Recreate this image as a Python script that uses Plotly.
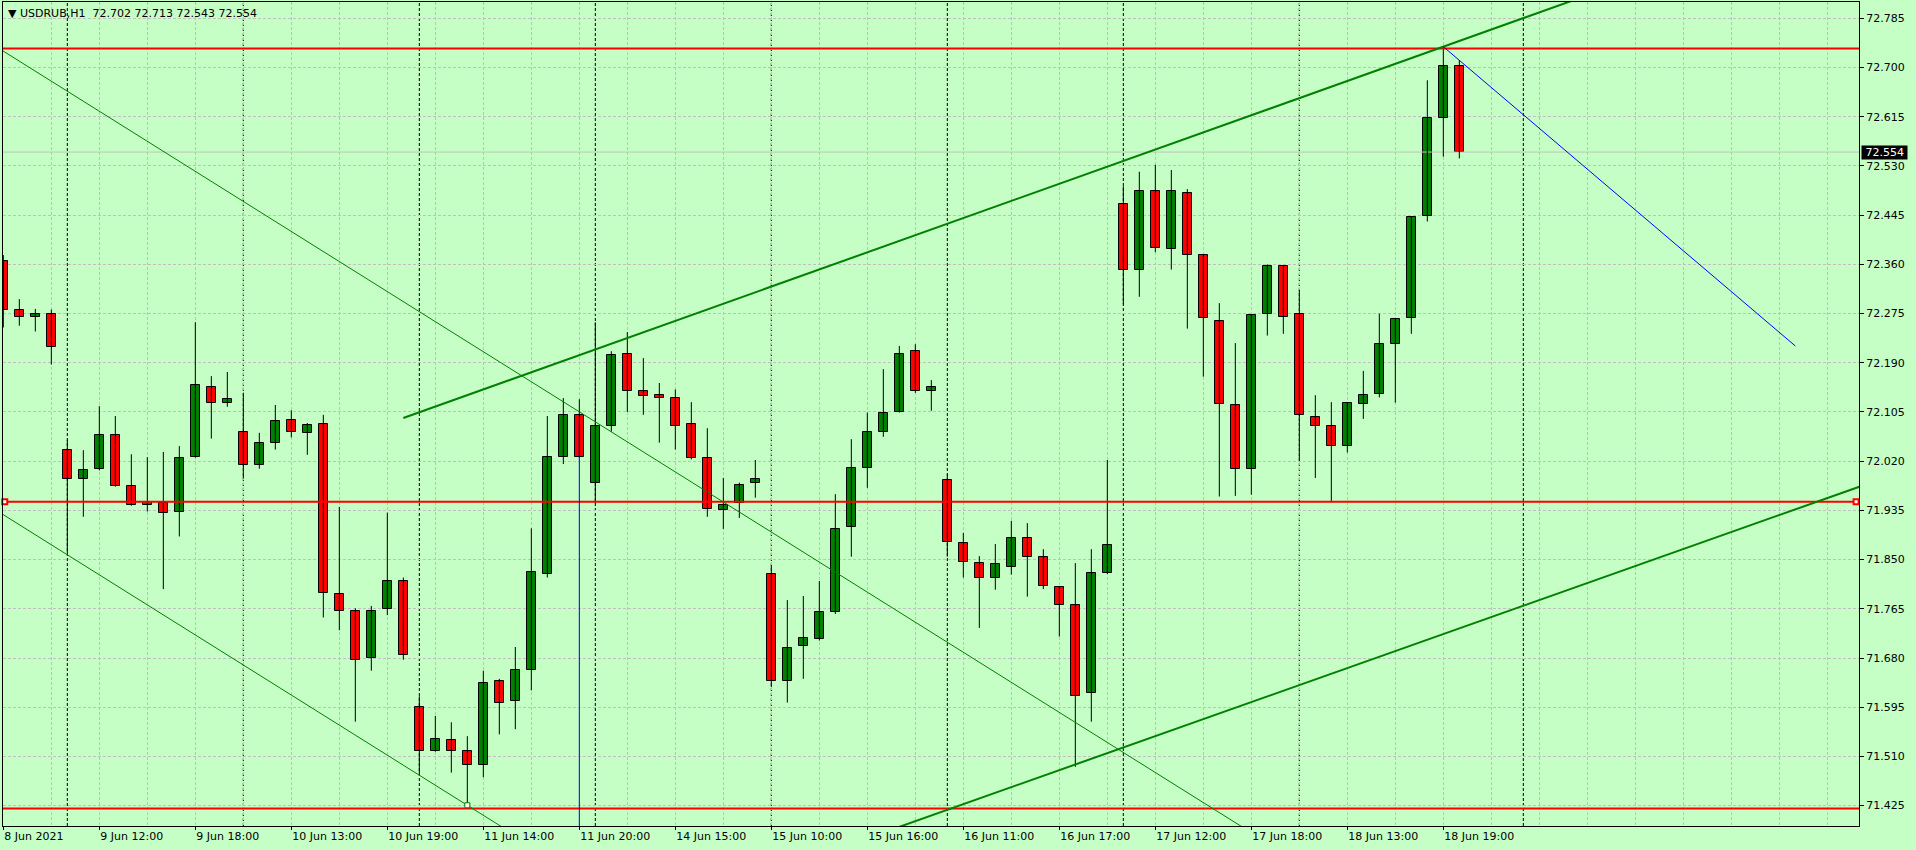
import plotly.graph_objects as go

# ---------------- data ----------------
bar_index = list(range(92))
open_ = [72.366, 72.282, 72.269, 72.275, 72.040, 71.989, 72.006, 72.066, 71.977, 71.945,
         71.947, 71.932, 72.027, 72.149, 72.120, 72.070, 72.013, 72.051, 72.091, 72.068,
         72.084, 71.790, 71.762, 71.680, 71.764, 71.813, 71.596, 71.519, 71.538, 71.519,
         71.495, 71.640, 71.605, 71.659, 71.825, 72.027, 72.099, 71.983, 72.080, 72.206,
         72.142, 72.135, 72.129, 72.085, 72.025, 71.935, 71.947, 71.982, 71.825, 71.641,
         71.700, 71.712, 71.759, 71.906, 72.008, 72.070, 72.105, 72.210, 72.141, 71.987,
         71.878, 71.844, 71.818, 71.838, 71.888, 71.854, 71.802, 71.771, 71.619, 71.826,
         72.465, 72.350, 72.486, 72.386, 72.483, 72.376, 72.262, 72.117, 72.006, 72.274,
         72.358, 72.274, 72.096, 72.080, 72.047, 72.118, 72.136, 72.222, 72.267, 72.443,
         72.612, 72.702]
high = [72.376, 72.300, 72.283, 72.282, 72.057, 72.039, 72.115, 72.098, 72.032, 72.027,
        72.036, 72.046, 72.260, 72.167, 72.174, 72.138, 72.069, 72.117, 72.108, 72.086,
        72.100, 71.941, 71.766, 71.770, 71.931, 71.819, 71.614, 71.580, 71.569, 71.545,
        71.658, 71.644, 71.699, 71.904, 72.098, 72.129, 72.127, 72.260, 72.210, 72.243,
        72.198, 72.155, 72.144, 72.122, 72.077, 71.991, 71.983, 72.022, 71.840, 71.780,
        71.787, 71.813, 71.963, 72.058, 72.104, 72.179, 72.219, 72.222, 72.160, 71.997,
        71.896, 71.856, 71.877, 71.917, 71.913, 71.868, 71.804, 71.844, 71.868, 72.022,
        72.495, 72.520, 72.532, 72.523, 72.490, 72.377, 72.293, 72.224, 72.274, 72.360,
        72.359, 72.316, 72.134, 72.122, 72.122, 72.176, 72.275, 72.267, 72.442, 72.678,
        72.736, 72.713]
low = [72.251, 72.254, 72.244, 72.187, 71.861, 71.924, 72.004, 71.976, 71.943, 71.933,
       71.799, 71.890, 72.026, 72.059, 72.114, 71.990, 72.007, 72.040, 72.061, 72.031,
       71.750, 71.728, 71.570, 71.658, 71.754, 71.677, 71.481, 71.518, 71.482, 71.426,
       71.474, 71.548, 71.557, 71.624, 71.819, 72.015, 72.026, 71.947, 72.071, 72.105,
       72.100, 72.052, 72.040, 72.023, 71.924, 71.903, 71.922, 71.957, 71.630, 71.603,
       71.644, 71.710, 71.756, 71.855, 71.974, 72.062, 72.104, 72.138, 72.107, 71.855,
       71.819, 71.732, 71.798, 71.824, 71.786, 71.799, 71.717, 71.492, 71.570, 71.825,
       72.291, 72.304, 72.381, 72.351, 72.249, 72.166, 71.959, 71.960, 71.962, 72.237,
       72.240, 72.021, 71.991, 71.949, 72.035, 72.093, 72.130, 72.121, 72.240, 72.434,
       72.546, 72.543]
close = [72.282, 72.269, 72.274, 72.217, 71.990, 72.004, 72.065, 71.977, 71.945, 71.949,
         71.930, 72.025, 72.151, 72.120, 72.127, 72.013, 72.051, 72.089, 72.070, 72.082,
         71.792, 71.762, 71.677, 71.762, 71.813, 71.685, 71.519, 71.540, 71.519, 71.495,
         71.636, 71.603, 71.660, 71.828, 72.027, 72.099, 72.027, 72.080, 72.203, 72.141,
         72.133, 72.129, 72.081, 72.025, 71.937, 71.945, 71.978, 71.990, 71.641, 71.697,
         71.714, 71.759, 71.902, 72.008, 72.070, 72.104, 72.206, 72.141, 72.149, 71.880,
         71.845, 71.818, 71.842, 71.888, 71.854, 71.804, 71.771, 71.614, 71.826, 71.875,
         72.350, 72.486, 72.388, 72.486, 72.377, 72.267, 72.118, 72.006, 72.272, 72.357,
         72.269, 72.099, 72.080, 72.047, 72.120, 72.134, 72.222, 72.265, 72.441, 72.612,
         72.702, 72.554]

symbol = "USDRUB,H1"
x_label_bars = [0, 6, 12, 18, 24, 30, 36, 42, 48, 54, 60, 66, 72, 78, 84, 90]
x_labels = ["8 Jun 2021", "9 Jun 12:00", "9 Jun 18:00", "10 Jun 13:00", "10 Jun 19:00",
            "11 Jun 14:00", "11 Jun 20:00", "14 Jun 15:00", "15 Jun 10:00", "15 Jun 16:00",
            "16 Jun 11:00", "16 Jun 17:00", "17 Jun 12:00", "17 Jun 18:00", "18 Jun 13:00",
            "18 Jun 19:00"]
y_ticks = [71.425, 71.510, 71.595, 71.680, 71.765, 71.850, 71.935, 72.020, 72.105,
           72.190, 72.275, 72.360, 72.445, 72.530, 72.615, 72.700, 72.785]
day_separator_bars = [4, 15, 26, 37, 48, 59, 70, 81, 95]

# chart objects (bar index, price)
red_levels = [72.733, 71.420]
red_segment = [(0.09, 71.950), (115.8, 71.950)]
channel_upper = [(25, 72.0946), (90, 72.736)]
channel_lower = [(50, 71.3296), (116, 71.9759)]
thin_line_a = [(0, 72.7283), (70, 71.5168)]
thin_line_b = [(0, 71.9275), (29, 71.4256)]
blue_line = [(90, 72.736), (112, 72.219)]
blue_vertical = [(36, 72.090), (36, 71.30)]

# ---------------- style ----------------
BG = "#C5FFC5"
BULL = "#008000"
BEAR = "#FF0000"
GRID = "#C0C0C0"
FONT = "DejaVu Sans"
X_RANGE = [-0.02, 115.98]
Y_RANGE = [71.3898, 72.8132]


def extend(pts, x0, x1):
    (a, pa), (b, pb) = pts
    k = (pb - pa) / (b - a)
    return [x0, x1], [pa + k * (x0 - a), pa + k * (x1 - a)]


fig = go.Figure()

# bid line
fig.add_trace(go.Scatter(x=X_RANGE, y=[close[-1], close[-1]], mode="lines",
                         line=dict(color="#C0C0C0", width=1), hoverinfo="skip"))

# wicks
wx, wy = [], []
for i in bar_index:
    wx += [i, i, None]
    wy += [low[i], high[i], None]
fig.add_trace(go.Scatter(x=wx, y=wy, mode="lines", line=dict(color="black", width=1),
                         hoverinfo="skip"))

# bodies
for bull in (True, False):
    idx = [i for i in bar_index if (close[i] >= open_[i]) == bull]
    fig.add_trace(go.Bar(
        x=idx,
        base=[min(open_[i], close[i]) for i in idx],
        y=[max(abs(close[i] - open_[i]), 0.0008) for i in idx],
        width=0.58,
        marker=dict(color=BULL if bull else BEAR, line=dict(color="black", width=1)),
        hoverinfo="skip"))

# red horizontal levels
for lvl in red_levels:
    fig.add_trace(go.Scatter(x=X_RANGE, y=[lvl, lvl], mode="lines",
                             line=dict(color="#FF0000", width=2), hoverinfo="skip"))
fig.add_trace(go.Scatter(x=[p[0] for p in red_segment], y=[p[1] for p in red_segment],
                         mode="lines", line=dict(color="#FF0000", width=2), hoverinfo="skip"))
fig.add_trace(go.Scatter(x=[p[0] for p in red_segment], y=[p[1] for p in red_segment],
                         mode="markers", cliponaxis=False,
                         marker=dict(symbol="square", size=5, color="white",
                                     line=dict(color="#FF0000", width=2)), hoverinfo="skip"))

# channel (thick green)
xs, ys = extend(channel_upper, channel_upper[0][0], 125)
fig.add_trace(go.Scatter(x=xs, y=ys, mode="lines", line=dict(color=BULL, width=2),
                         hoverinfo="skip"))
xs, ys = extend(channel_lower, 40, 125)
fig.add_trace(go.Scatter(x=xs, y=ys, mode="lines", line=dict(color=BULL, width=2),
                         hoverinfo="skip"))

# thin green lines
for ln in (thin_line_a, thin_line_b):
    xs, ys = extend(ln, -5, 90)
    fig.add_trace(go.Scatter(x=xs, y=ys, mode="lines", line=dict(color=BULL, width=1),
                             hoverinfo="skip"))
fig.add_trace(go.Scatter(x=[thin_line_b[1][0]], y=[thin_line_b[1][1]], mode="markers",
                         marker=dict(symbol="square", size=5, color="white",
                                     line=dict(color=BULL, width=1)), hoverinfo="skip"))

# blue lines
fig.add_trace(go.Scatter(x=[p[0] for p in blue_line], y=[p[1] for p in blue_line],
                         mode="lines", line=dict(color="#0000FF", width=1), hoverinfo="skip"))
fig.add_trace(go.Scatter(x=[p[0] for p in blue_vertical], y=[p[1] for p in blue_vertical],
                         mode="lines", line=dict(color="#0000FF", width=1), hoverinfo="skip"))

# day separators
shapes = []
for b in day_separator_bars:
    shapes.append(dict(type="line", xref="x", yref="paper", x0=b, x1=b, y0=0, y1=1,
                       line=dict(color="black", width=1, dash="3px,2px"), layer="between"))

title_txt = ("<span style='font-size:11px'>▼</span>\u00a0" + symbol + "\u00a0\u00a0" +
             " ".join(f"{v:.3f}" for v in (open_[-1], high[-1], low[-1], close[-1])))

fig.update_layout(
    width=1916, height=850,
    margin=dict(l=3, r=57, t=2, b=24, pad=0, autoexpand=False),
    paper_bgcolor=BG, plot_bgcolor=BG,
    showlegend=False, barmode="overlay", bargap=0,
    font=dict(family=FONT, size=11, color="black"),
    shapes=shapes,
    annotations=[
        dict(xref="paper", yref="paper", x=0, y=1, xanchor="left", yanchor="top",
             xshift=3, yshift=-3, text=title_txt, showarrow=False,
             font=dict(family=FONT, size=11, color="black")),
        dict(xref="paper", yref="y", x=1, y=close[-1], xanchor="left", yanchor="middle",
             xshift=2, text="\u00a0" + f"{close[-1]:.3f}" + "\u00a0", showarrow=False,
             bgcolor="black", borderpad=0,
             font=dict(family=FONT, size=11, color="white")),
    ],
    xaxis=dict(range=X_RANGE, tickmode="array", tickvals=x_label_bars, ticktext=x_labels,
               ticks="outside", ticklen=3, tickcolor="black", tickwidth=1,
               ticklabelposition="outside right", automargin=False,
               showgrid=True, gridcolor=GRID, griddash="3px,2px", gridwidth=1,
               minor=dict(tickmode="linear", tick0=0, dtick=3, showgrid=True,
                          gridcolor=GRID, griddash="3px,2px", gridwidth=1, ticks=""),
               showline=True, linecolor="black", linewidth=1, mirror=True,
               zeroline=False, fixedrange=True),
    yaxis=dict(range=Y_RANGE, side="right", tickmode="array", tickvals=y_ticks,
               ticktext=[f"{v:.3f}" for v in y_ticks], automargin=False,
               ticks="outside", ticklen=4, tickcolor="black", tickwidth=1,
               showgrid=True, gridcolor=GRID, griddash="3px,2px", gridwidth=1,
               showline=True, linecolor="black", linewidth=1, mirror=True,
               zeroline=False, fixedrange=True),
)

fig.write_html("out.html", config={"displayModeBar": False},
               post_script="document.body.style.margin='0px';"
                           "document.body.style.background='" + BG + "';")
